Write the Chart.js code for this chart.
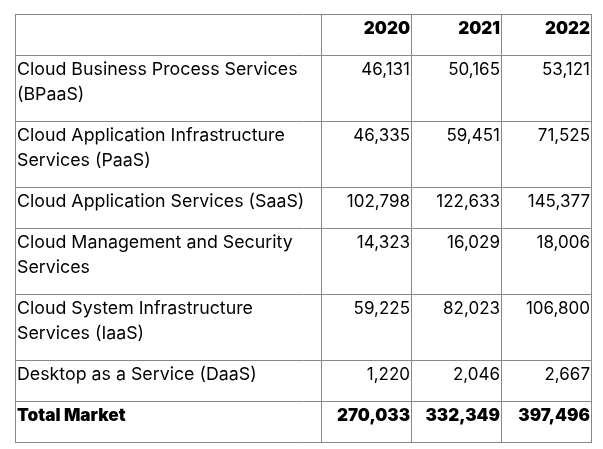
<!DOCTYPE html>
<html><head><meta charset="utf-8">
<script src="https://cdn.jsdelivr.net/npm/chart.js@4/dist/chart.umd.min.js"></script>
<style>html,body{margin:0;padding:0;background:#fff}canvas{display:block}</style>
</head><body>
<canvas id="c" width="603" height="449"></canvas>
<script>
// ---- data ----
const categories = [
  ["Cloud Business Process Services", "(BPaaS)"],
  ["Cloud Application Infrastructure", "Services (PaaS)"],
  ["Cloud Application Services (SaaS)"],
  ["Cloud Management and Security", "Services"],
  ["Cloud System Infrastructure", "Services (IaaS)"],
  ["Desktop as a Service (DaaS)"]
];
const totalLabel = "Total Market";
const years = ["2020", "2021", "2022"];
const values2020 = [46131, 46335, 102798, 14323, 59225, 1220];
const values2021 = [50165, 59451, 122633, 16029, 82023, 2046];
const values2022 = [53121, 71525, 145377, 18006, 106800, 2667];
const totals = [270033, 332349, 397496];

// ---- layout (not data) ----
const COL_W = [306, 90, 90, 90];
const LINE_H = 25, ROW_PAD = 16, BASE = 20;
const FONT = '"Inter", "Liberation Sans", sans-serif';

const colBounds = [0];
COL_W.forEach(w => colBounds.push(colBounds[colBounds.length - 1] + w));
const rowLines = [1].concat(categories.map(c => c.length), [1]);
const rowBounds = [0];
rowLines.forEach(n => rowBounds.push(rowBounds[rowBounds.length - 1] + ROW_PAD + LINE_H * n));

const fmt = v => v.toLocaleString('en-US');
const series = [values2020, values2021, values2022];

const datasets = [];
// label column
datasets.push({
  label: 'labels',
  data: [{x: colBounds[0], y: rowBounds[0], lines: [''], align: 'left', bold: true, size: 17}]
    .concat(categories.map((c, i) => ({x: colBounds[0], y: rowBounds[i + 1], lines: c, align: 'left', bold: false, size: 17.8})))
    .concat([{x: colBounds[0], y: rowBounds[categories.length + 1], lines: [totalLabel], align: 'left', bold: true, size: 17.2}])
});
series.forEach((vals, j) => {
  datasets.push({
    label: years[j],
    data: [{x: colBounds[j + 2], y: rowBounds[0], lines: [years[j]], align: 'right', bold: true, size: 17}]
      .concat(vals.map((v, i) => ({x: colBounds[j + 2], y: rowBounds[i + 1], lines: [fmt(v)], align: 'right', bold: false, size: 17})))
      .concat([{x: colBounds[j + 2], y: rowBounds[categories.length + 1], lines: [fmt(totals[j])], align: 'right', bold: true, size: 17}])
  });
});

const cellText = {
  id: 'cellText',
  afterDatasetsDraw(chart) {
    const ctx = chart.ctx;
    ctx.save();
    ctx.fillStyle = '#000';
    ctx.textBaseline = 'alphabetic';
    chart.data.datasets.forEach((ds, di) => {
      const meta = chart.getDatasetMeta(di);
      meta.data.forEach((el, i) => {
        const d = ds.data[i];
        ctx.font = (d.bold ? '900 ' : '400 ') + d.size + 'px ' + FONT;
        ctx.textAlign = d.align;
        const x = d.align === 'left' ? el.x + 2 : el.x - 1;
        d.lines.forEach((t, k) => ctx.fillText(t, x, el.y + BASE + k * LINE_H));
      });
    });
    ctx.restore();
  }
};

const gridColor = '#888888';
new Chart(document.getElementById('c'), {
  type: 'scatter',
  data: {datasets},
  options: {
    responsive: false,
    animation: false,
    events: [],
    layout: {padding: {left: 15, top: 14, right: 12, bottom: 7}},
    elements: {point: {radius: 0, hoverRadius: 0}},
    plugins: {legend: {display: false}, tooltip: {enabled: false}},
    scales: {
      x: {
        type: 'linear', min: colBounds[0], max: colBounds[colBounds.length - 1],
        afterBuildTicks: s => { s.ticks = colBounds.map(v => ({value: v})); },
        ticks: {display: false},
        grid: {color: gridColor, lineWidth: 1, drawTicks: false},
        border: {display: true, color: gridColor, width: 1}
      },
      y: {
        type: 'linear', reverse: true, min: rowBounds[0], max: rowBounds[rowBounds.length - 1],
        afterBuildTicks: s => { s.ticks = rowBounds.map(v => ({value: v})); },
        ticks: {display: false},
        grid: {color: gridColor, lineWidth: 1, drawTicks: false},
        border: {display: true, color: gridColor, width: 1}
      }
    }
  },
  plugins: [cellText]
});
</script>
</body></html>
